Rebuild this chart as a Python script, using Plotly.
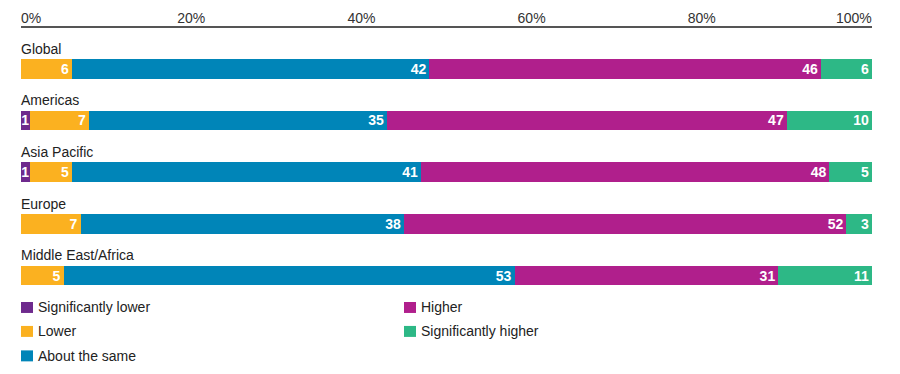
import plotly.graph_objects as go

regions = ["Global", "Americas", "Asia Pacific", "Europe", "Middle East/Africa"]
series_names = ["Significantly lower", "Lower", "About the same", "Higher", "Significantly higher"]
sig_lower = [0, 1, 1, 0, 0]
lower = [6, 7, 5, 7, 5]
same = [42, 35, 41, 38, 53]
higher = [46, 47, 48, 52, 31]
sig_higher = [6, 10, 5, 3, 11]
tick_vals = [0, 20, 40, 60, 80, 100]
tick_labels = ["0%", "20%", "40%", "60%", "80%", "100%"]

colors = ["#6E2A8D", "#FBB120", "#0085B8", "#B01F8C", "#2DB886"]
series = [sig_lower, lower, same, higher, sig_higher]

FONT = "Liberation Sans, Arial, sans-serif"
W, H = 900, 374
ML, MR, MT, MB = 21, 28, 28, 82.5
PW, PH = W - ML - MR, H - MT - MB


def px_x(px):
    return (px - ML) / PW


def px_y(py):
    return (H - MB - py) / PH


ypos = list(range(len(regions)))

fig = go.Figure()
for k, (name, vals, col) in enumerate(zip(series_names, series, colors)):
    fig.add_trace(go.Bar(
        x=[v if v > 0 else None for v in vals],
        y=ypos,
        orientation="h",
        name=name,
        marker=dict(color=col, line=dict(width=0)),
        width=0.386,
        text=[str(v) if v > 0 else "" for v in vals],
        textposition="inside",
        insidetextanchor="middle" if k == 0 else "end",
        textangle=0,
        constraintext="none",
        textfont=dict(color="white", size=14, family=FONT, weight="bold"),
        showlegend=False,
        hoverinfo="skip",
    ))

annotations = []
shapes = []
for i, r in enumerate(regions):
    annotations.append(dict(
        x=0, y=i - 0.39, xref="x", yref="y", text=r, showarrow=False,
        xanchor="left", yanchor="middle", xshift=-2,
        font=dict(size=14, color="#222", family=FONT)))
# end tick labels aligned to plot edges
annotations.append(dict(x=tick_vals[0], y=1, xref="x", yref="paper", text=tick_labels[0],
                        showarrow=False, xanchor="left", yanchor="middle", yshift=10, xshift=-2,
                        font=dict(size=14, color="#333", family=FONT)))
annotations.append(dict(x=tick_vals[-1], y=1, xref="x", yref="paper", text=tick_labels[-1],
                        showarrow=False, xanchor="right", yanchor="middle", yshift=10, xshift=2,
                        font=dict(size=14, color="#333", family=FONT)))

# legend (two columns)
legend_pos = [(21, 308), (21, 332), (21, 356.5), (404, 308), (404, 332)]
for name, col, (lx, ly) in zip(series_names, colors, legend_pos):
    shapes.append(dict(type="rect", xref="paper", yref="paper",
                       x0=px_x(lx), x1=px_x(lx + 12), y0=px_y(ly - 5.5), y1=px_y(ly + 5.5),
                       fillcolor=col, line=dict(width=0)))
    annotations.append(dict(x=px_x(lx + 15), y=px_y(ly), xref="paper", yref="paper",
                            text=name, showarrow=False, xanchor="left", yanchor="middle",
                            font=dict(size=14, color="#222", family=FONT)))

fig.update_layout(
    width=W, height=H,
    barmode="stack",
    paper_bgcolor="white", plot_bgcolor="white",
    margin=dict(l=ML, r=MR, t=MT, b=MB, autoexpand=False),
    font=dict(family=FONT, size=14, color="#333"),
    uniformtext=dict(minsize=14, mode="show"),
    xaxis=dict(
        range=[0, 100], side="top", tickvals=tick_vals[1:-1], ticktext=tick_labels[1:-1],
        showgrid=False, zeroline=False, showline=True, linecolor="#555", linewidth=2,
        ticks="", ticklabelstandoff=-3,
        tickfont=dict(size=14, color="#333", family=FONT), fixedrange=True,
    ),
    yaxis=dict(
        range=[4.3, -0.79], showticklabels=False, showgrid=False, zeroline=False,
        showline=False, ticks="", fixedrange=True,
    ),
    showlegend=False,
    annotations=annotations,
    shapes=shapes,
)

fig.write_html("out.html", config={"displayModeBar": False},
               post_script="document.body.style.margin='0px';")
